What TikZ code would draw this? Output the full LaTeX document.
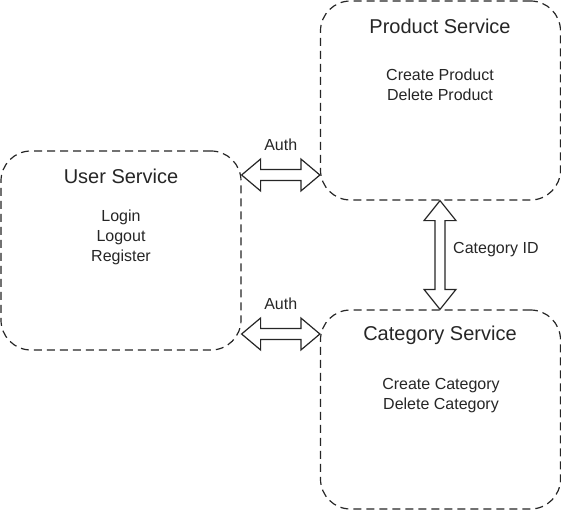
\documentclass[tikz,border=0pt]{standalone}
\usepackage{fontspec}
\setmainfont{Liberation Sans}
\usetikzlibrary{calc}
\tikzset{
  svc/.style={draw=black!85, line width=1.2bp, dash pattern=on 8bp off 5bp, rounded corners=30bp,
    minimum width=240bp, minimum height=199bp, inner sep=0pt, fill=white},
  ttl/.style={font=\fontsize{20bp}{24bp}\selectfont, text=black!85, inner sep=0pt},
  body/.style={font=\fontsize{16bp}{20bp}\selectfont, text=black!85, inner sep=0pt, align=center},
  blk/.style={draw=black!85, line width=1.2bp, fill=white, line join=miter}
}
\begin{document}
\begin{tikzpicture}[x=1bp,y=-1bp]
\useasboundingbox (0,0) rectangle (561,510);
\node[svc] (user) at (121,250.5) {};
\node[svc] (prod) at (440.5,100.5) {};
\node[svc] (cat) at (440.5,409.5) {};

\node[ttl] (usert) at (121,176) {User Service};
\node[body,anchor=north] (userb) at (121,210) {Login\\Logout\\Register};
\node[ttl] (prodt) at (440,26) {Product Service};
\node[body,anchor=north] (prodb) at (440,69) {Create Product\\Delete Product};
\node[ttl] (catt) at (440,335) {Category Service};
\node[body,anchor=north] (catb) at (441,378) {Create Category\\Delete Category};

% top horizontal arrow
\coordinate (a1l) at (user.east |- 0,175);
\coordinate (a1r) at (prod.west |- 0,175);
\draw[blk] (a1l) -- ++(19,-16) -- ++(0,10.5) -- ($(a1r)+(-19,-5.5)$) -- ++(0,-10.5) -- (a1r)
  -- ++(-19,16) -- ++(0,-10.5) -- ($(a1l)+(19,5.5)$) -- ++(0,10.5) -- cycle;
\node[body] (auth1) at ($(a1l)!0.5!(a1r)+(0,-30)$) {Auth};

% bottom horizontal arrow
\coordinate (a2l) at (user.east |- 0,334);
\coordinate (a2r) at (cat.west |- 0,334);
\draw[blk] (a2l) -- ++(19,-16) -- ++(0,10.5) -- ($(a2r)+(-19,-5.5)$) -- ++(0,-10.5) -- (a2r)
  -- ++(-19,16) -- ++(0,-10.5) -- ($(a2l)+(19,5.5)$) -- ++(0,10.5) -- cycle;
\node[body] (auth2) at ($(a2l)!0.5!(a2r)+(0,-30)$) {Auth};

% vertical arrow
\coordinate (a3t) at (prod.south -| 440,0);
\coordinate (a3b) at (cat.north -| 440,0);
\draw[blk] (a3t) -- ++(16,20) -- ++(-11,0) -- ($(a3b)+(5,-20)$) -- ++(11,0) -- (a3b)
  -- ++(-16,-20) -- ++(11,0) -- ($(a3t)+(-5,20)$) -- ++(-11,0) -- cycle;
\node[body,anchor=west] (catid) at (453,250) {Category ID};
\end{tikzpicture}
\end{document}
